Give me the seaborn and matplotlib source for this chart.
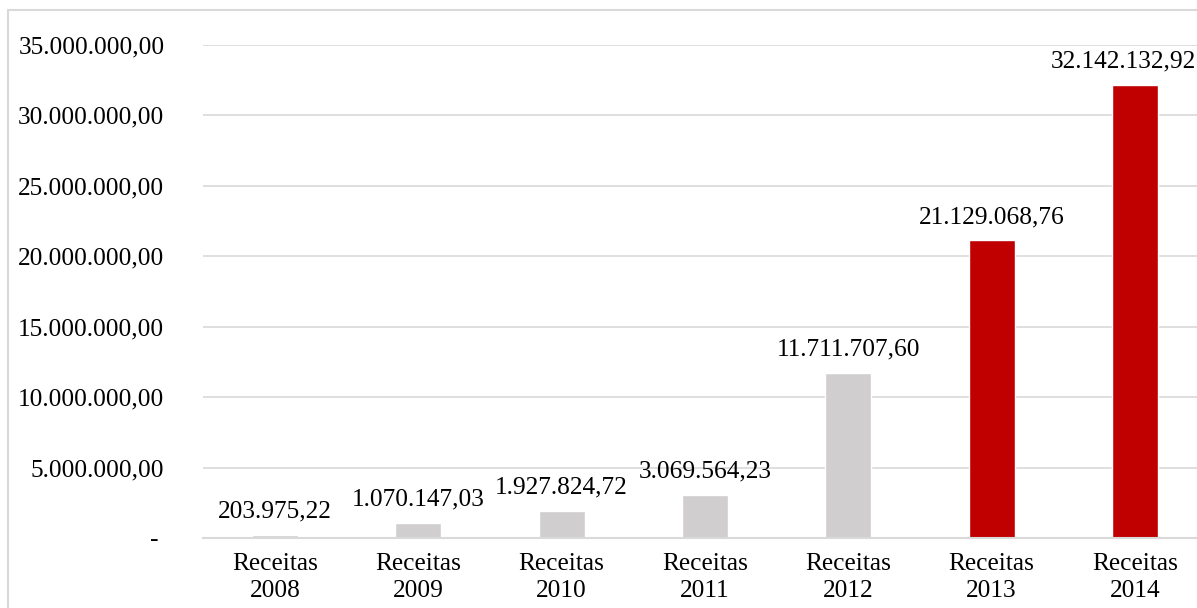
import matplotlib
matplotlib.use("Agg")
import matplotlib.pyplot as plt
from matplotlib.patches import Rectangle
from matplotlib.ticker import FuncFormatter, MultipleLocator
import seaborn as sns
import pandas as pd

categories = ["Receitas\n2008", "Receitas\n2009", "Receitas\n2010", "Receitas\n2011",
              "Receitas\n2012", "Receitas\n2013", "Receitas\n2014"]
values = [203975.22, 1070147.03, 1927824.72, 3069564.23,
          11711707.60, 21129068.76, 32142132.92]
bar_colors = ["#D0CECE", "#D0CECE", "#D0CECE", "#D0CECE", "#D0CECE", "#C00000", "#C00000"]


def br_number(v):
    s = f"{v:,.2f}"
    return s.replace(",", "X").replace(".", ",").replace("X", ".")


sns.set_theme(style="white")
plt.rcParams["font.family"] = ["Liberation Serif", "DejaVu Serif"]
FS = 18.3

df = pd.DataFrame({"cat": categories, "val": values})

fig = plt.figure(figsize=(11.97, 6.08), dpi=100)
fig.patch.set_facecolor("white")
# chart area frame
fig.add_artist(Rectangle((8 / 1197, -0.1), 1.2, (608 - 10) / 608 + 0.1,
                         transform=fig.transFigure, fill=False,
                         edgecolor="#D9D9D9", linewidth=1.5))

ax = fig.add_axes([203.3 / 1197, 70 / 608, 1003.3 / 1197, 493 / 608])
sns.barplot(data=df, x="cat", y="val", hue="cat", palette=bar_colors,
            legend=False, width=0.32, saturation=1, ax=ax)

ax.set_ylim(0, 35e6)
ax.set_xlim(-0.5, len(categories) - 0.5)
ax.yaxis.set_major_locator(MultipleLocator(5e6))
ax.yaxis.set_major_formatter(FuncFormatter(
    lambda v, p: "- " if v == 0 else br_number(v)))
ax.grid(axis="y", color="#D9D9D9", linewidth=1.2)
ax.set_axisbelow(True)
for side in ["top", "right", "left"]:
    ax.spines[side].set_visible(False)
ax.spines["bottom"].set_color("#D9D9D9")
ax.spines["bottom"].set_linewidth(1.5)
ax.tick_params(axis="y", length=0, pad=28, labelsize=FS, labelcolor="black")
ax.tick_params(axis="x", length=0, pad=11, labelsize=FS, labelcolor="black")
ax.set_xticks(range(len(categories)))
ax.set_xticklabels(categories, linespacing=1.3)
ax.set_xlabel("")
ax.set_ylabel("")

for i, v in enumerate(values):
    dx = -8 if i == len(values) - 1 else 0
    ax.annotate(br_number(v), (i, v), xytext=(dx, 12.5), textcoords="offset points",
                ha="center", va="baseline", fontsize=FS, color="black",
                annotation_clip=False)

fig.savefig("out.png", dpi=100)
